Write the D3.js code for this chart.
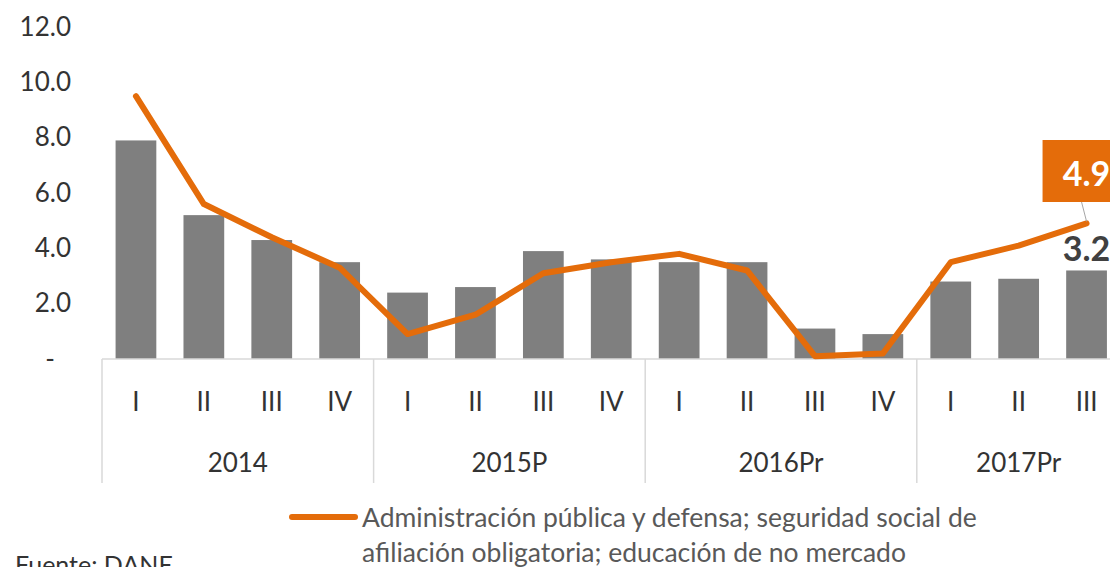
<!DOCTYPE html>
<html>
<head>
<meta charset="utf-8">
<script src="https://cdn.jsdelivr.net/npm/d3@7"></script>
<style>
body { margin: 0; background: #fff; }
svg { font-family: Lato, "Noto Sans", sans-serif; }
</style>
</head>
<body>
<div id="chart"></div>
<script>
// trimestres y años
var quarters = ["I","II","III","IV","I","II","III","IV","I","II","III","IV","I","II","III"];
var years = ["2014","2015P","2016Pr","2017Pr"];
var yearSize = [4,4,4,3];
// barras (gris) y linea (naranja)
var barValues = [7.9,5.2,4.3,3.5,2.4,2.6,3.9,3.6,3.5,3.5,1.1,0.9,2.8,2.9,3.2];
var lineValues = [9.5,5.6,4.4,3.3,0.9,1.6,3.1,3.5,3.8,3.2,0.1,0.2,3.5,4.1,4.9];
var yTicks = [0,2,4,6,8,10,12];
var legendLines = ["Administración pública y defensa; seguridad social de","afiliación obligatoria; educación de no mercado"];
var source = "Fuente: DANE";

var width = 1110, height = 567;
var left = 102, step = 67.9;
var orange = "#E46C0A";

var svg = d3.select("#chart").append("svg")
	.attr("width", width)
	.attr("height", height);

var idx = d3.range(quarters.length);

var x = d3.scaleBand()
	.domain(idx)
	.range([left, left + step*quarters.length])
	.paddingInner(0.4)
	.paddingOuter(0.2);

var y = d3.scaleLinear().domain([0,12]).range([359, 27]);

// eje y
var yAxis = svg.append("g")
	.attr("transform", "translate(71,0)")
	.call(d3.axisLeft(y).tickValues(yTicks).tickSize(0).tickPadding(0)
		.tickFormat(function(d) { return d === 0 ? "-" : d.toFixed(1); }));
yAxis.select(".domain").remove();
yAxis.selectAll("text")
	.style("font-size", "26px")
	.style("font-family", "Lato, sans-serif")
	.attr("fill", "#333")
	.attr("dx", function(d) { return d === 0 ? "-16px" : 0; });

// barras
svg.selectAll(".bar")
	.data(barValues)
	.enter().append("rect")
	.attr("class", "bar")
	.attr("x", function(d, i) { return x(i); })
	.attr("y", function(d) { return y(d); })
	.attr("width", x.bandwidth())
	.attr("height", function(d) { return y(0) - y(d); })
	.attr("fill", "#7F7F7F");

// linea base y separadores
svg.append("line")
	.attr("x1", left).attr("x2", width)
	.attr("y1", y(0)).attr("y2", y(0))
	.attr("stroke", "#d9d9d9").attr("stroke-width", 1.5);

var start = 0;
var seps = [0];
yearSize.forEach(function(n) { start += n; seps.push(start); });

svg.selectAll(".sep")
	.data(seps.slice(0, 4))
	.enter().append("line")
	.attr("class", "sep")
	.attr("x1", function(d) { return left + d*step; })
	.attr("x2", function(d) { return left + d*step; })
	.attr("y1", y(0))
	.attr("y2", 483)
	.attr("stroke", "#d9d9d9").attr("stroke-width", 1.5);

// etiquetas de trimestre
svg.selectAll(".q")
	.data(quarters)
	.enter().append("text")
	.attr("class", "q")
	.attr("x", function(d, i) { return x(i) + x.bandwidth()/2; })
	.attr("y", 411)
	.attr("text-anchor", "middle")
	.style("font-size", "26px")
	.attr("fill", "#333")
	.text(function(d) { return d; });

svg.selectAll(".yr")
	.data(years)
	.enter().append("text")
	.attr("class", "yr")
	.attr("x", function(d, i) { return left + (seps[i] + yearSize[i]/2)*step; })
	.attr("y", 472)
	.attr("text-anchor", "middle")
	.style("font-size", "26px")
	.attr("fill", "#333")
	.text(function(d) { return d; });

// linea
var valueline = d3.line()
	.x(function(d, i) { return x(i) + x.bandwidth()/2; })
	.y(function(d) { return y(d); });

svg.append("path")
	.datum(lineValues)
	.attr("d", valueline)
	.attr("fill", "none")
	.attr("stroke", orange)
	.attr("stroke-width", 6)
	.attr("stroke-linejoin", "round")
	.attr("stroke-linecap", "round");

// etiquetas del ultimo dato
var last = quarters.length - 1;
var cx = x(last) + x.bandwidth()/2;

svg.append("line")
	.attr("x1", cx).attr("y1", y(lineValues[last]) - 2)
	.attr("x2", cx - 5).attr("y2", 202)
	.attr("stroke", "#a6a6a6").attr("stroke-width", 1);

svg.append("rect")
	.attr("x", cx - 44)
	.attr("y", 140)
	.attr("width", 88)
	.attr("height", 62)
	.attr("fill", orange);

svg.append("text")
	.attr("x", cx)
	.attr("y", 186)
	.attr("text-anchor", "middle")
	.style("font-size", "34px")
	.style("font-weight", "bold")
	.attr("fill", "#fff")
	.text(lineValues[last].toFixed(1));

svg.append("text")
	.attr("x", cx)
	.attr("y", y(barValues[last]) - 9)
	.attr("text-anchor", "middle")
	.style("font-size", "34px")
	.style("font-weight", "bold")
	.attr("fill", "#404040")
	.text(barValues[last].toFixed(1));

// leyenda
svg.append("line")
	.attr("x1", 292).attr("x2", 355)
	.attr("y1", 517).attr("y2", 517)
	.attr("stroke", orange).attr("stroke-width", 6)
	.attr("stroke-linecap", "round");

svg.selectAll(".leg")
	.data(legendLines)
	.enter().append("text")
	.attr("class", "leg")
	.attr("x", 362)
	.attr("y", function(d, i) { return 527 + i*35; })
	.style("font-size", "26.5px")
	.attr("fill", "#595959")
	.text(function(d) { return d; });

svg.append("text")
	.attr("x", 15)
	.attr("y", 574)
	.style("font-size", "25px")
	.attr("fill", "#333")
	.text(source);
</script>
</body>
</html>
